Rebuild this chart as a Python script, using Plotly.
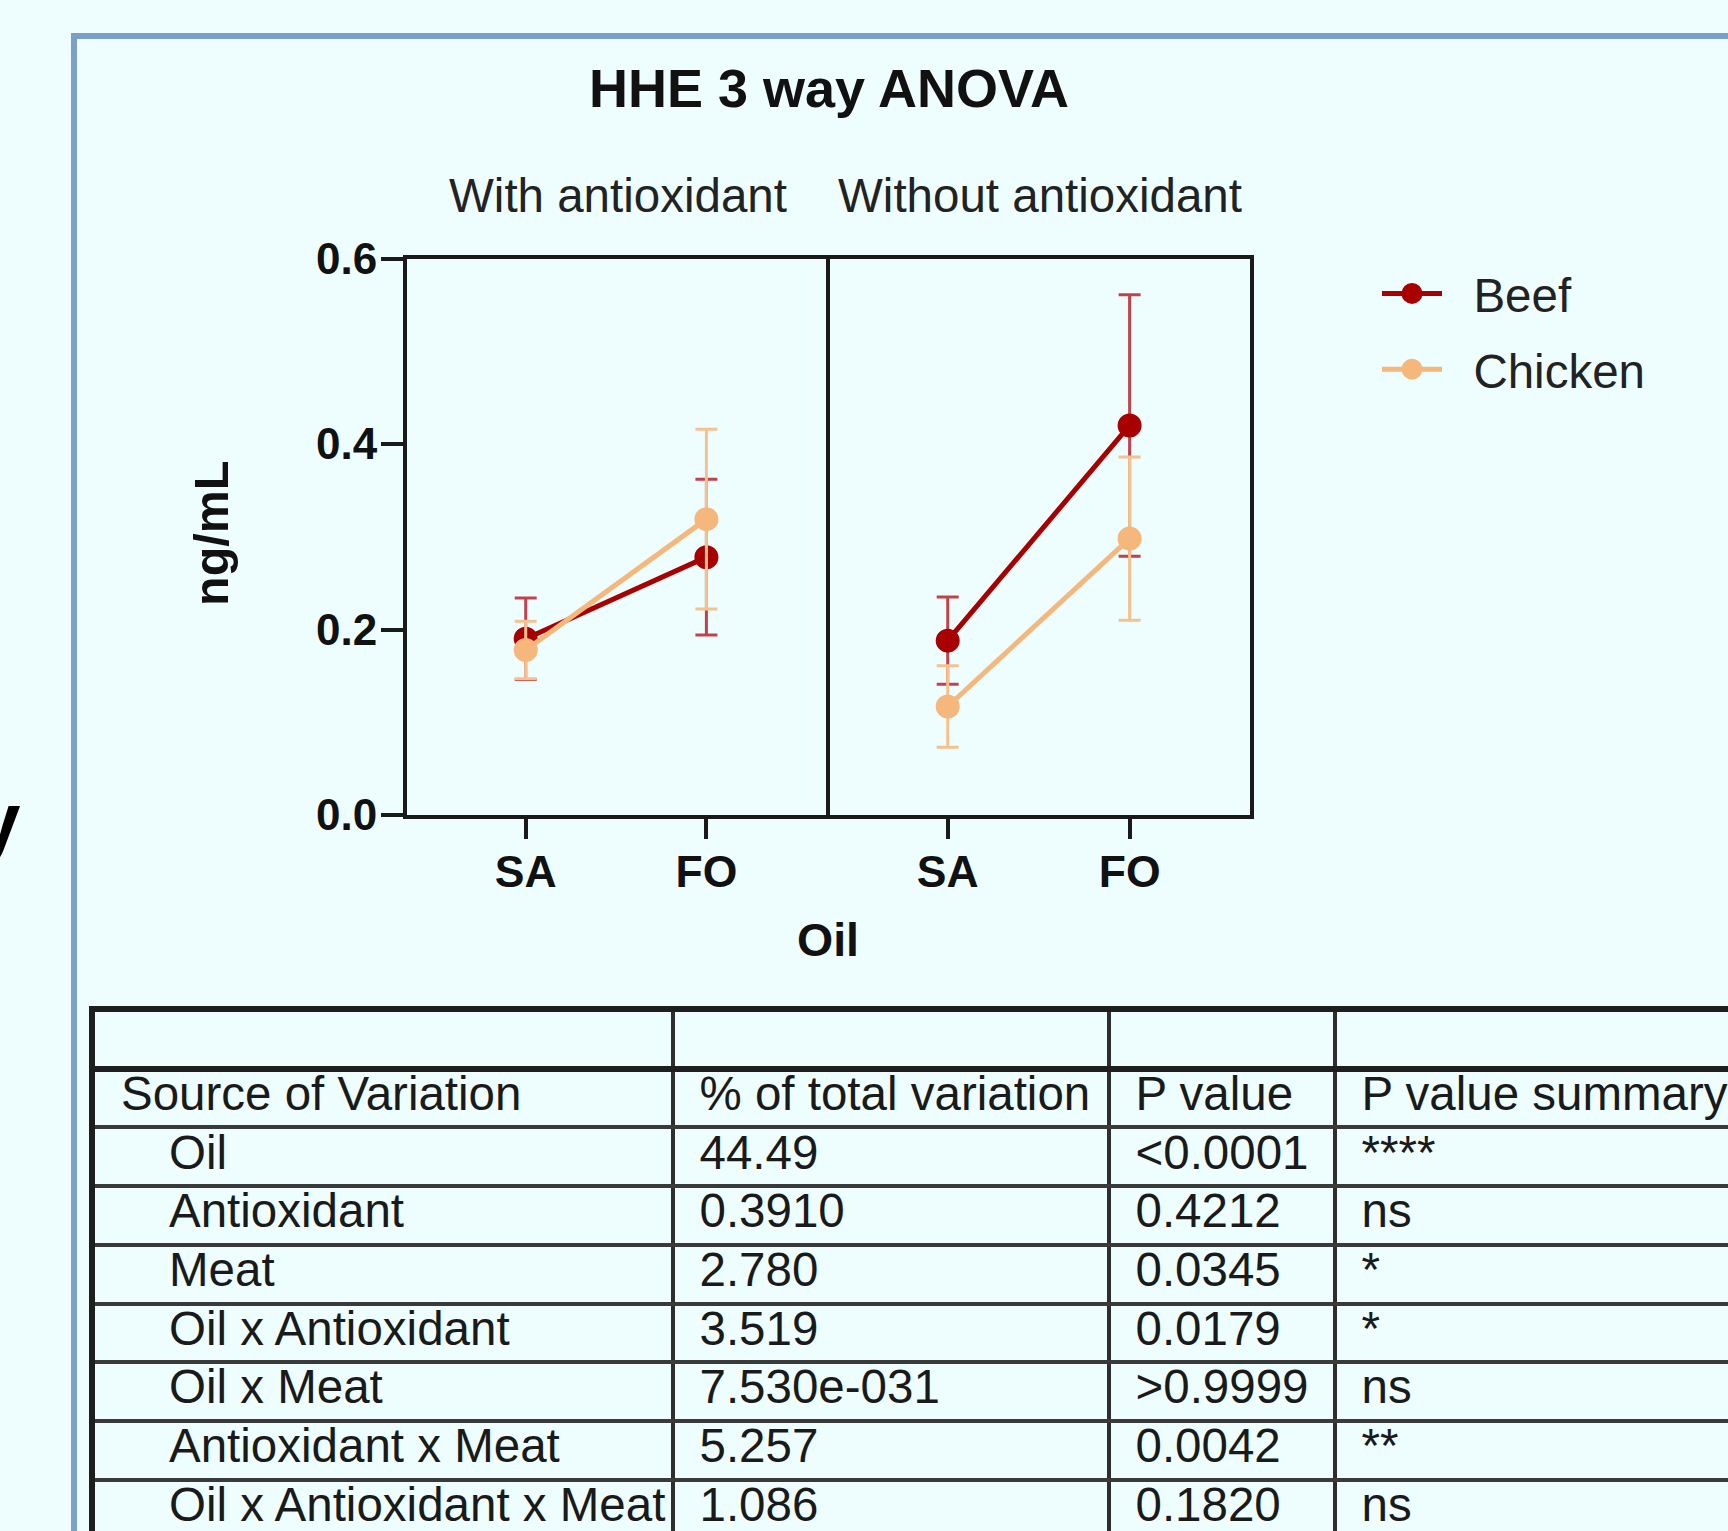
import plotly.graph_objects as go

# ---------------- data ----------------
oil = ["SA", "FO"]
panels = ["With antioxidant", "Without antioxidant"]

beef_with = [0.190, 0.278]
beef_with_err = [0.044, 0.084]
chicken_with = [0.178, 0.319]
chicken_with_err = [0.031, 0.097]

beef_without = [0.188, 0.420]
beef_without_err = [0.047, 0.141]
chicken_without = [0.117, 0.298]
chicken_without_err = [0.044, 0.088]

y_ticks = [0.0, 0.2, 0.4, 0.6]
y_ticktext = ["0.0", "0.2", "0.4", "0.6"]

tbl_source = ["Source of Variation", "Oil", "Antioxidant", "Meat", "Oil x Antioxidant",
              "Oil x Meat", "Antioxidant x Meat", "Oil x Antioxidant x Meat"]
tbl_pct = ["% of total variation", "44.49", "0.3910", "2.780", "3.519",
           "7.530e-031", "5.257", "1.086"]
tbl_p = ["P value", "<0.0001", "0.4212", "0.0345", "0.0179", ">0.9999", "0.0042", "0.1820"]
tbl_summary = ["P value summary", "****", "ns", "*", "*", "ns", "**", "ns"]

# ---------------- layout constants ----------------
W, H = 1728, 1531
BG = "#eefefe"
FONT = "Liberation Sans, Arial, sans-serif"
BEEF = "#a80000"
BEEF_ERR = "#c2424b"
CHICK = "#f5b77b"
CHICK_ERR = "#f5c18e"
AX = "#1a1a1a"
LW = 3.5


def px(x):
    return x / W


def py(y):
    return 1 - y / H


# panel domains (pixels); axis lines are drawn LW/2 outside the domain
d1 = (406.75, 829.5)
d2 = (829.5, 1250)
plot_top, plot_bot = 258.5, 815
# pixel positions of the SA / FO ticks in each panel
tick_px = [(525.7, 706.4), (947.7, 1129.6)]


def cat_range(dom, ticks):
    u = ticks[1] - ticks[0]
    return [-(ticks[0] - dom[0]) / u, (dom[1] - ticks[0]) / u]


fig = go.Figure()

series = [
    ("Beef", BEEF, BEEF_ERR, [beef_with, beef_without], [beef_with_err, beef_without_err]),
    ("Chicken", CHICK, CHICK_ERR, [chicken_with, chicken_without], [chicken_with_err, chicken_without_err]),
]
NBSP = "\u00a0"
for name, col, ecol, ys, es in series:
    for i, (yv, ev) in enumerate(zip(ys, es)):
        fig.add_trace(go.Scatter(
            x=oil, y=yv, name=NBSP * 2 + name, legendgroup=name, showlegend=(i == 0),
            mode="lines+markers",
            line=dict(color=col, width=5),
            marker=dict(color=col, size=19, line=dict(color=col, width=5)),
            error_y=dict(type="data", array=ev, visible=True, color=ecol, thickness=3, width=11),
            xaxis="x" if i == 0 else "x2", yaxis="y" if i == 0 else "y2",
        ))

axis_common = dict(
    type="category", categoryorder="array", categoryarray=oil,
    showline=True, linecolor=AX, linewidth=LW, mirror=True,
    ticks="outside", ticklen=20, tickwidth=LW, tickcolor=AX, ticklabelstandoff=-5,
    tickfont=dict(family=FONT, size=44.5, color="#111", weight="bold"),
    showgrid=False, zeroline=False, fixedrange=True, automargin=False,
)

fig.update_layout(
    width=W, height=H, autosize=False,
    margin=dict(l=0, r=0, t=0, b=0, pad=0, autoexpand=False),
    paper_bgcolor=BG, plot_bgcolor=BG,
    xaxis=dict(domain=[px(d1[0]), px(d1[1])], anchor="y", range=cat_range(d1, tick_px[0]), **axis_common),
    xaxis2=dict(domain=[px(d2[0]), px(d2[1])], anchor="y2", range=cat_range(d2, tick_px[1]), **axis_common),
    yaxis=dict(domain=[py(plot_bot), py(plot_top)], anchor="x", range=[0, 0.6],
               tickvals=y_ticks, ticktext=y_ticktext,
               showline=True, linecolor=AX, linewidth=LW, mirror=False,
               ticks="outside", ticklen=22, tickwidth=LW, tickcolor=AX, ticklabelstandoff=-5,
               tickfont=dict(family=FONT, size=44, color="#111", weight="bold"),
               showgrid=False, zeroline=False, automargin=False),
    yaxis2=dict(domain=[py(plot_bot), py(plot_top)], anchor="x2", matches="y", range=[0, 0.6],
                showline=True, linecolor=AX, linewidth=LW, mirror=True,
                ticks="", showticklabels=False, showgrid=False, zeroline=False, automargin=False),
    legend=dict(x=px(1377), y=py(256), xanchor="left", yanchor="top",
                font=dict(family=FONT, size=47.5, color="#222"),
                bgcolor="rgba(0,0,0,0)", itemwidth=60, tracegroupgap=11),
    showlegend=True,
)

# ---------------- table (text on its own axes, rules from gridlines) ----------------
tbl_left = 95
col_edges = [92, 672.5, 1108.5, 1334.5]
row_unit = 58.7
row0_px = 1068.7       # pixel of the top of the header row (y = 0)
tbl_top = 1012         # pixel of the top edge of the table axes
y_top_val = -(row0_px - tbl_top) / row_unit
y_bottom_val = (H - row0_px) / row_unit
fig.update_layout(
    xaxis3=dict(domain=[px(tbl_left), 1], range=[tbl_left, W], anchor="y3",
                tickmode="array", tickvals=col_edges[1:], showgrid=True,
                gridcolor="#2e2e2e", gridwidth=3.5, showticklabels=False, ticks="",
                zeroline=False, showline=True, side="top", linecolor="#1e1e1e", linewidth=6,
                automargin=False),
    yaxis3=dict(domain=[0, py(tbl_top)], range=[y_bottom_val, y_top_val], anchor="x3",
                tickmode="array", tickvals=list(range(1, len(tbl_source))), showgrid=True,
                gridcolor="#3a3a3a", gridwidth=3.5, showticklabels=False, ticks="",
                zeroline=True, zerolinecolor="#1e1e1e", zerolinewidth=6,
                showline=True, linecolor="#1e1e1e", linewidth=6, automargin=False),
)
text_pad = 27
indent = 50
header_nudge = 2
columns = [tbl_source, tbl_pct, tbl_p, tbl_summary]
for ci, col in enumerate(columns):
    xs = []
    for ri in range(len(col)):
        x0 = col_edges[ci] + text_pad
        if ci == 0:
            x0 += indent if ri > 0 else header_nudge
        xs.append(x0)
    fig.add_trace(go.Scatter(
        x=xs, y=[ri + 0.5 for ri in range(len(col))], text=col, mode="text",
        textposition="middle right", showlegend=False, hoverinfo="skip",
        textfont=dict(family=FONT, size=47.5, color="#1a1a1a"),
        xaxis="x3", yaxis="y3", cliponaxis=False,
    ))

# ---------------- text annotations ----------------
ann = []
ann.append(dict(text="HHE 3 way ANOVA", x=px(829), y=py(88), xref="paper", yref="paper",
                showarrow=False, xanchor="center", yanchor="middle",
                font=dict(family=FONT, size=54, color="#111", weight="bold")))
for name, (a, b) in zip(panels, [d1, d2]):
    ann.append(dict(text=name, x=px((a + b) / 2), y=py(196), xref="paper", yref="paper",
                    showarrow=False, xanchor="center", yanchor="middle",
                    font=dict(family=FONT, size=47.5, color="#222")))
ann.append(dict(text="Oil", x=px((d1[0] + d2[1]) / 2), y=py(940), xref="paper", yref="paper",
                showarrow=False, xanchor="center", yanchor="middle",
                font=dict(family=FONT, size=46.5, color="#111", weight="bold")))
ann.append(dict(text="ng/mL", x=px(211), y=py(534), xref="paper", yref="paper",
                showarrow=False, xanchor="center", yanchor="middle", textangle=-90,
                font=dict(family=FONT, size=48.5, color="#111", weight="bold")))
# clipped glyph fragments at the left edge of the screenshot
ann.append(dict(text="o", x=px(4), y=py(147), xref="paper", yref="paper",
                showarrow=False, xanchor="right", yanchor="middle",
                font=dict(family=FONT, size=62, color="#000", weight="bold")))
ann.append(dict(text="y", x=px(22.5), y=py(820), xref="paper", yref="paper",
                showarrow=False, xanchor="right", yanchor="middle",
                font=dict(family=FONT, size=80, color="#000", weight="bold")))
fig.update_layout(annotations=ann)

# slide frame (blue border)
fig.update_layout(shapes=[
    dict(type="line", xref="paper", yref="paper", x0=px(74), x1=px(74), y0=py(36), y1=-0.05,
         line=dict(color="#7aa0c9", width=6)),
    dict(type="line", xref="paper", yref="paper", x0=px(71), x1=1.05, y0=py(36), y1=py(36),
         line=dict(color="#7aa0c9", width=6)),
])

fig.write_html(
    "out.html",
    config={"displayModeBar": False},
    post_script="document.body.style.margin='0px';document.body.style.background='%s';" % BG,
)
